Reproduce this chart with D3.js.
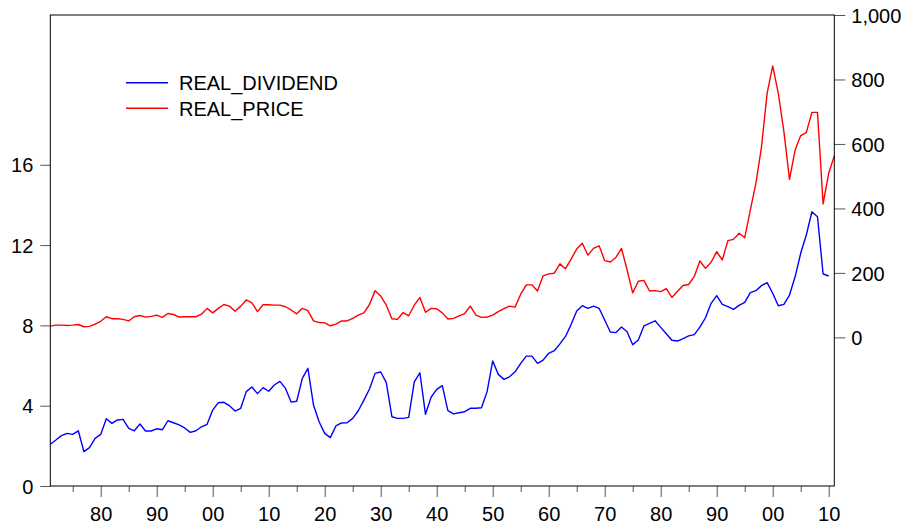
<!DOCTYPE html>
<html>
<head>
<meta charset="utf-8">
<script src="https://cdn.jsdelivr.net/npm/d3@7"></script>
<style>
  body { margin: 0; background: #fff; }
  svg { display: block; font-family: "Liberation Sans", Arial, sans-serif; }
</style>
</head>
<body>
<svg id="chart" width="904" height="531"></svg>
<script>
// annual data, 1871 onwards
var firstYear = 1871, lastYear = 2011;

var realDividend = [
  2.08, 2.29, 2.51, 2.62, 2.57, 2.75, 1.71, 1.91, 2.37, 2.57,
  3.35, 3.12, 3.29, 3.32, 2.87, 2.75, 3.09, 2.74, 2.74, 2.85,
  2.80, 3.25, 3.15, 3.04, 2.89, 2.67, 2.75, 2.95, 3.07, 3.78,
  4.15, 4.17, 4.00, 3.73, 3.87, 4.70, 4.93, 4.60, 4.90, 4.72,
  5.03, 5.21, 4.86, 4.18, 4.22, 5.36, 5.86, 4.03, 3.20, 2.62,
  2.41, 2.99, 3.14, 3.15, 3.37, 3.75, 4.28, 4.83, 5.61, 5.68,
  5.15, 3.45, 3.37, 3.37, 3.42, 5.19, 5.64, 3.57, 4.42, 4.81,
  5.00, 3.75, 3.59, 3.65, 3.70, 3.87, 3.87, 3.90, 4.70, 6.23,
  5.56, 5.31, 5.44, 5.69, 6.11, 6.47, 6.47, 6.11, 6.27, 6.61,
  6.74, 7.08, 7.45, 8.04, 8.72, 8.98, 8.85, 8.96, 8.85, 8.27,
  7.67, 7.64, 7.92, 7.68, 7.04, 7.27, 7.97, 8.10, 8.23, 7.90,
  7.58, 7.26, 7.22, 7.34, 7.48, 7.54, 7.91, 8.38, 9.10, 9.48,
  9.05, 8.93, 8.80, 9.00, 9.15, 9.63, 9.73, 9.98, 10.13, 9.60,
  8.98, 9.05, 9.51, 10.42, 11.59, 12.50, 13.66, 13.41, 10.56, 10.46
];

var realPrice = [
  35, 38, 38, 37, 38, 40, 33, 34, 41, 50,
  64, 58, 58, 56, 51, 64, 68, 63, 65, 69,
  62, 74, 71, 63, 64, 64, 64, 72, 90, 76,
  90, 102, 97, 81, 97, 116, 107, 80, 101, 101,
  100, 100, 95, 85, 73, 90, 83, 51, 46, 45,
  36, 41, 51, 51, 59, 69, 76, 102, 145, 128,
  100, 58, 56, 77, 67, 100, 124, 78, 90, 89,
  76, 57, 59, 67, 74, 97, 69, 62, 63, 69,
  80, 89, 97, 94, 134, 163, 163, 144, 191, 197,
  199, 228, 213, 243, 274, 292, 255, 276, 284, 238,
  234, 248, 276, 209, 138, 174, 177, 144, 145, 142,
  151, 124, 143, 161, 164, 189, 237, 214, 233, 266,
  240, 300, 304, 323, 309, 395, 478, 591, 757, 842,
  757, 638, 490, 581, 626, 635, 698, 698, 414, 509,
  563
];

var leftTicks = [0, 4, 8, 12, 16];
var rightTicks = [0, 200, 400, 600, 800, 1000];
var majorYears = [1880, 1890, 1900, 1910, 1920, 1930, 1940, 1950, 1960, 1970, 1980, 1990, 2000, 2010];
var minorYears = [1875, 1885, 1895, 1905, 1915, 1925, 1935, 1945, 1955, 1965, 1975, 1985, 1995, 2005];
var seriesNames = ["REAL_DIVIDEND", "REAL_PRICE"];
var seriesColors = ["#0000ff", "#ff0000"];

var plot = {left: 50.3, right: 834.3, top: 15, bottom: 486};

var svg = d3.select("#chart");

var x = d3.scaleLinear().domain([firstYear, lastYear]).range([plot.left, plot.right]);
var yL = d3.scaleLinear().domain([0, 23.46]).range([plot.bottom, plot.top]);
var yR = d3.scaleLinear().domain([-461, 1000]).range([plot.bottom, plot.top]);

function yearOf(i){ return firstYear + i; }

//Axes
var gLeft = svg.append("g")
  .attr("transform", "translate(" + plot.left + ",0)")
  .call(d3.axisLeft(yL).tickValues(leftTicks).tickSize(10).tickPadding(7));

var gRight = svg.append("g")
  .attr("transform", "translate(" + plot.right + ",0)")
  .call(d3.axisRight(yR).tickValues(rightTicks).tickFormat(d3.format(",")).tickSize(11).tickPadding(6));

var gBottom = svg.append("g")
  .attr("transform", "translate(0," + plot.bottom + ")")
  .call(d3.axisBottom(x).tickValues(majorYears)
    .tickFormat(function(d){ return String(d).slice(2); })
    .tickSize(11).tickPadding(10));

var gMinor = svg.append("g")
  .attr("transform", "translate(0," + plot.bottom + ")")
  .call(d3.axisBottom(x).tickValues(minorYears).tickFormat("").tickSize(6));

[gLeft, gRight, gBottom, gMinor].forEach(function(g){
  g.select(".domain").remove();
  g.selectAll(".tick line").attr("stroke", "#555").attr("stroke-width", 1);
  g.selectAll(".tick text")
    .attr("fill", "#000")
    .style("font-family", "'Liberation Sans', Arial, sans-serif")
    .style("font-size", "20px");
});
gLeft.selectAll(".tick text").attr("dy", "0.36em");
gRight.selectAll(".tick text").attr("dy", "0.36em");

//Lines
var divLine = d3.line()
  .x(function(d, i){ return x(yearOf(i)); })
  .y(function(d){ return yL(d); });

var priceLine = d3.line()
  .x(function(d, i){ return x(yearOf(i)); })
  .y(function(d){ return yR(d); });

svg.append("path")
  .datum(realPrice)
  .attr("fill", "none")
  .attr("stroke", seriesColors[1])
  .attr("stroke-width", 1.4)
  .attr("stroke-linejoin", "round")
  .attr("d", priceLine);

svg.append("path")
  .datum(realDividend)
  .attr("fill", "none")
  .attr("stroke", seriesColors[0])
  .attr("stroke-width", 1.4)
  .attr("stroke-linejoin", "round")
  .attr("d", divLine);

//Frame
svg.append("rect")
  .attr("x", plot.left)
  .attr("y", plot.top)
  .attr("width", plot.right - plot.left)
  .attr("height", plot.bottom - plot.top)
  .attr("fill", "none")
  .attr("stroke", "#000")
  .attr("stroke-width", 1);

//Legend
var legend = svg.append("g").attr("transform", "translate(126,82.7)");
seriesNames.forEach(function(name, i){
  legend.append("line")
    .attr("x1", 0).attr("x2", 42)
    .attr("y1", i * 25.6).attr("y2", i * 25.6)
    .attr("stroke", seriesColors[i])
    .attr("stroke-width", 1.4);
  legend.append("text")
    .attr("x", 53)
    .attr("y", i * 25.6 + 7.5)
    .style("font-size", "20px")
    .attr("fill", "#000")
    .text(name);
});
</script>
</body>
</html>
